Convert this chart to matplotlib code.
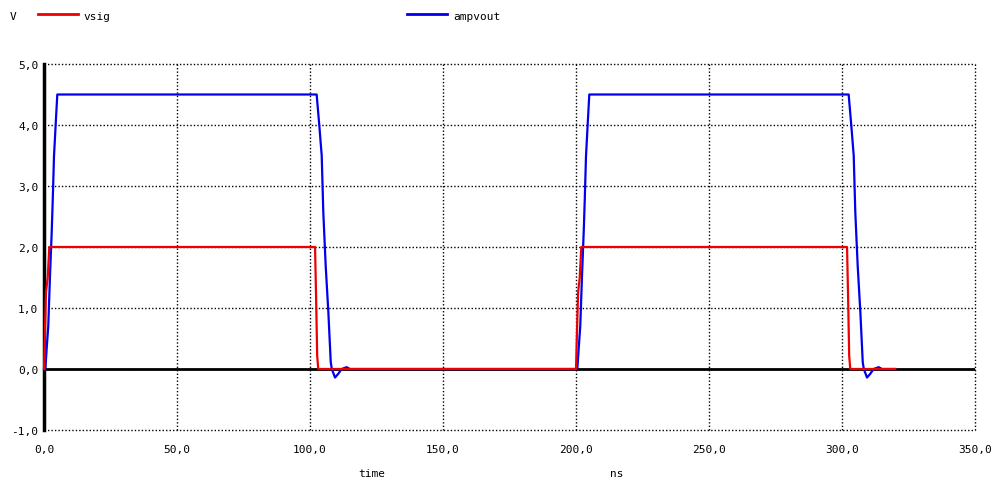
import matplotlib
matplotlib.use("Agg")
import matplotlib.pyplot as plt
from matplotlib.lines import Line2D
from matplotlib.ticker import FuncFormatter

# time in ns, values in V
vsig_t = [0.0, 0.38, 0.75, 1.4, 2.0, 101.9, 102.3, 102.7, 103.1,
          200.0, 200.4, 200.8, 201.4, 202.0, 301.9, 302.3, 302.7, 303.1, 320.0]
vsig_v = [0.0, 0.66, 1.26, 1.5, 2.0, 2.0, 1.15, 0.22, 0.0,
          0.0, 0.66, 1.26, 1.5, 2.0, 2.0, 1.15, 0.22, 0.0, 0.0]

amp_t = [0.0, 0.5, 1.0, 1.6, 2.25, 2.9, 3.3, 3.76, 4.5, 5.0,
         102.5, 103.5, 104.4, 105.0, 105.9, 106.9, 107.8, 108.2, 109.4, 110.6, 111.9, 113.8, 115.0,
         200.5, 201.0, 201.6, 202.25, 202.9, 203.3, 203.76, 204.5, 205.0,
         302.5, 303.5, 304.4, 305.0, 305.9, 306.9, 307.8, 308.2, 309.4, 310.6, 311.9, 313.8, 315.0, 320.0]
amp_v = [0.0, 0.0, 0.33, 0.7, 1.52, 2.25, 2.79, 3.49, 4.1, 4.5,
         4.5, 3.99, 3.5, 2.57, 1.69, 0.93, 0.11, 0.0, -0.14, -0.08, 0.0, 0.03, 0.0,
         0.0, 0.33, 0.7, 1.52, 2.25, 2.79, 3.49, 4.1, 4.5,
         4.5, 3.99, 3.5, 2.57, 1.69, 0.93, 0.11, 0.0, -0.14, -0.08, 0.0, 0.03, 0.0, 0.0]

x_ticks = [0, 50, 100, 150, 200, 250, 300, 350]
y_ticks = [-1, 0, 1, 2, 3, 4, 5]

W, H = 993, 485
fig = plt.figure(figsize=(W / 100, H / 100), dpi=100)
ax = fig.add_axes([44 / W, (H - 431) / H, (975 - 44) / W, (431 - 65) / H])

font = dict(family="DejaVu Sans Mono", size=8)

ax.set_xlim(0, 350)
ax.set_ylim(-1, 5)
ax.set_xticks(x_ticks)
ax.set_yticks(y_ticks)
comma = FuncFormatter(lambda v, p: ("%.1f" % v).replace(".", ","))
ax.xaxis.set_major_formatter(comma)
ax.yaxis.set_major_formatter(comma)
ax.tick_params(axis="x", length=0, pad=10, labelsize=8)
ax.tick_params(axis="y", length=0, pad=4, labelsize=8)
for lab in ax.get_xticklabels() + ax.get_yticklabels():
    lab.set_family("DejaVu Sans Mono")
for s in ax.spines.values():
    s.set_visible(False)
ax.grid(True, color="black", linestyle=(0, (1, 1.5)), linewidth=1)
ax.set_axisbelow(True)
for gl in ax.get_xgridlines() + ax.get_ygridlines():
    gl.set_clip_on(False)

ax.axhline(0, color="black", lw=2, zorder=2)
ax.axvline(0, color="black", lw=2.5, zorder=2, clip_on=False)

ax.plot(amp_t, amp_v, color="#0000ee", lw=1.6, zorder=3, clip_on=False)
ax.plot(vsig_t, vsig_v, color="#ee0000", lw=1.6, zorder=4, clip_on=False)

# legend / labels drawn like the simulator header
def fx(px):
    return px / W

def fy(py):
    return 1 - py / H

fig.text(fx(10), fy(17), "V", ha="left", va="center", **font)
fig.add_artist(Line2D([fx(38), fx(78)], [fy(15), fy(15)], color="#ee0000", lw=2))
fig.text(fx(83), fy(17), "vsig", ha="left", va="center", **font)
fig.add_artist(Line2D([fx(407), fx(447)], [fy(15), fy(15)], color="#0000ee", lw=2))
fig.text(fx(453), fy(17), "ampvout", ha="left", va="center", **font)
fig.text(fx(372), fy(474), "time", ha="center", va="center", **font)
fig.text(fx(617), fy(474), "ns", ha="center", va="center", **font)

fig.savefig("out.png", dpi=100)
